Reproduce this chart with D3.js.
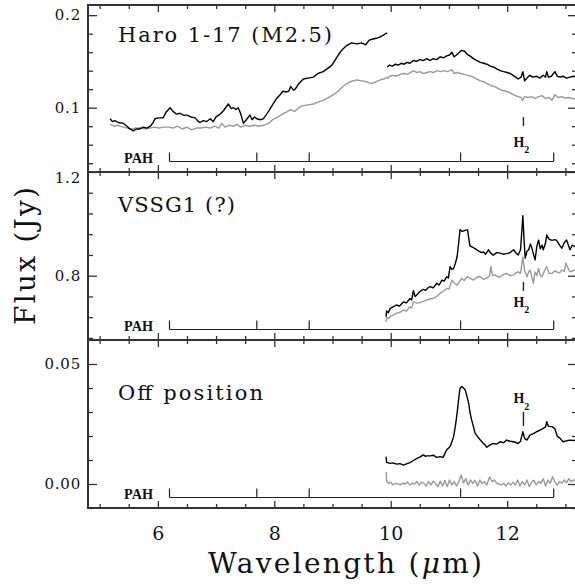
<!DOCTYPE html>
<html>
<head>
<meta charset="utf-8">
<script src="https://cdn.jsdelivr.net/npm/d3@7"></script>
<style>
body { margin: 0; background: #fff; }
svg { display: block; }
</style>
</head>
<body>
<div class="view"></div>
<script>
var width = 575;
var height = 585;

// ---- data (wavelength in micron, flux in Jy) ----
var panelNames = ["Haro 1-17 (M2.5)", "VSSG1 (?)", "Off position"];
var wavelengthTicks = [6, 8, 10, 12];
var fluxTicksHaro = [0.1, 0.2];
var fluxTicksVssg = [0.8, 1.2];
var fluxTicksOff = [0.00, 0.05];
var pahBands = [6.2, 7.7, 8.6, 11.2, 12.8];
var h2Line = 12.28;

var haroBlackShort = [[5.18,0.088],[5.22,0.085],[5.26,0.086],[5.32,0.084],[5.41,0.083],[5.47,0.080],[5.52,0.077],[5.58,0.075],[5.63,0.077],[5.69,0.077],[5.75,0.079],[5.81,0.078],[5.87,0.080],[5.92,0.084],[5.95,0.088],[6.01,0.089],[6.09,0.089],[6.14,0.095],[6.21,0.100],[6.26,0.096],[6.32,0.093],[6.38,0.094],[6.44,0.092],[6.50,0.092],[6.57,0.090],[6.64,0.089],[6.68,0.086],[6.72,0.084],[6.78,0.086],[6.84,0.085],[6.90,0.088],[6.95,0.085],[7.00,0.090],[7.07,0.093],[7.13,0.097],[7.21,0.104],[7.26,0.099],[7.30,0.100],[7.34,0.098],[7.38,0.100],[7.42,0.094],[7.47,0.083],[7.52,0.087],[7.58,0.092],[7.62,0.087],[7.66,0.090],[7.70,0.088],[7.76,0.087],[7.81,0.088],[7.87,0.093],[7.93,0.099],[7.98,0.104],[8.04,0.110],[8.10,0.114],[8.15,0.118],[8.20,0.117],[8.25,0.118],[8.28,0.123],[8.33,0.119],[8.36,0.120],[8.42,0.126],[8.50,0.131],[8.58,0.132],[8.67,0.133],[8.75,0.137],[8.84,0.139],[8.93,0.143],[8.99,0.146],[9.05,0.152],[9.11,0.158],[9.17,0.163],[9.24,0.167],[9.33,0.170],[9.42,0.169],[9.50,0.170],[9.57,0.168],[9.63,0.173],[9.68,0.174],[9.75,0.175],[9.80,0.176],[9.86,0.178],[9.94,0.181]];
var haroGrayShort = [[5.18,0.082],[5.25,0.080],[5.32,0.081],[5.40,0.079],[5.48,0.078],[5.55,0.077],[5.62,0.078],[5.70,0.078],[5.78,0.077],[5.86,0.078],[5.94,0.079],[6.02,0.078],[6.10,0.079],[6.18,0.079],[6.26,0.078],[6.34,0.080],[6.42,0.077],[6.50,0.079],[6.58,0.076],[6.66,0.078],[6.74,0.078],[6.82,0.079],[6.90,0.078],[6.98,0.080],[7.05,0.078],[7.10,0.083],[7.15,0.079],[7.22,0.081],[7.30,0.080],[7.36,0.082],[7.42,0.079],[7.50,0.081],[7.58,0.080],[7.66,0.081],[7.74,0.080],[7.82,0.081],[7.90,0.083],[7.97,0.087],[8.04,0.089],[8.14,0.093],[8.20,0.095],[8.28,0.098],[8.35,0.096],[8.42,0.100],[8.48,0.102],[8.58,0.103],[8.67,0.104],[8.75,0.106],[8.84,0.108],[8.93,0.111],[8.99,0.113],[9.08,0.117],[9.13,0.120],[9.22,0.125],[9.30,0.128],[9.42,0.130],[9.50,0.129],[9.59,0.128],[9.67,0.126],[9.74,0.128],[9.82,0.130],[9.88,0.131],[9.94,0.133]];
var haroBlackLong = [[9.94,0.144],[9.98,0.146],[10.03,0.145],[10.08,0.147],[10.13,0.146],[10.18,0.148],[10.23,0.147],[10.28,0.149],[10.33,0.148],[10.39,0.151],[10.44,0.150],[10.50,0.152],[10.56,0.151],[10.62,0.153],[10.67,0.151],[10.73,0.153],[10.79,0.152],[10.85,0.155],[10.91,0.154],[10.96,0.156],[11.01,0.157],[11.05,0.160],[11.09,0.155],[11.13,0.157],[11.18,0.160],[11.22,0.162],[11.27,0.161],[11.31,0.158],[11.36,0.156],[11.42,0.153],[11.48,0.151],[11.54,0.149],[11.60,0.148],[11.65,0.147],[11.71,0.145],[11.76,0.144],[11.82,0.142],[11.88,0.140],[11.94,0.139],[12.00,0.138],[12.05,0.137],[12.10,0.135],[12.15,0.133],[12.19,0.131],[12.24,0.133],[12.27,0.139],[12.30,0.129],[12.34,0.132],[12.39,0.135],[12.44,0.133],[12.51,0.134],[12.56,0.132],[12.62,0.135],[12.66,0.133],[12.68,0.139],[12.71,0.133],[12.76,0.134],[12.82,0.139],[12.86,0.134],[12.91,0.133],[12.96,0.134],[13.02,0.132],[13.08,0.133],[13.14,0.134],[13.19,0.133]];
var haroGrayLong = [[9.94,0.131],[9.98,0.134],[10.04,0.135],[10.10,0.134],[10.16,0.136],[10.22,0.137],[10.28,0.136],[10.34,0.138],[10.39,0.140],[10.45,0.138],[10.50,0.139],[10.56,0.137],[10.62,0.138],[10.68,0.139],[10.73,0.138],[10.80,0.140],[10.86,0.139],[10.91,0.140],[10.97,0.139],[11.02,0.140],[11.05,0.141],[11.09,0.137],[11.14,0.138],[11.20,0.137],[11.26,0.136],[11.32,0.135],[11.38,0.134],[11.42,0.133],[11.48,0.131],[11.54,0.129],[11.60,0.128],[11.66,0.126],[11.72,0.124],[11.78,0.123],[11.84,0.121],[11.90,0.119],[11.96,0.118],[12.02,0.117],[12.08,0.115],[12.14,0.113],[12.19,0.112],[12.24,0.111],[12.27,0.108],[12.30,0.112],[12.36,0.111],[12.42,0.112],[12.48,0.110],[12.54,0.112],[12.60,0.113],[12.66,0.110],[12.72,0.111],[12.77,0.108],[12.82,0.114],[12.88,0.111],[12.94,0.112],[13.00,0.110],[13.06,0.111],[13.12,0.110],[13.19,0.109]];

var vssgBlack = [[9.92,0.642],[9.93,0.664],[9.96,0.657],[9.99,0.674],[10.04,0.680],[10.10,0.687],[10.15,0.683],[10.22,0.699],[10.27,0.695],[10.33,0.712],[10.36,0.706],[10.39,0.742],[10.42,0.720],[10.45,0.726],[10.50,0.739],[10.56,0.747],[10.60,0.744],[10.65,0.755],[10.68,0.758],[10.73,0.753],[10.79,0.771],[10.83,0.764],[10.88,0.783],[10.92,0.779],[10.96,0.796],[10.99,0.791],[11.02,0.835],[11.05,0.824],[11.08,0.828],[11.11,0.847],[11.14,0.873],[11.17,0.932],[11.19,0.977],[11.23,0.971],[11.28,0.975],[11.32,0.977],[11.34,0.946],[11.36,0.915],[11.42,0.908],[11.48,0.900],[11.52,0.894],[11.56,0.889],[11.59,0.892],[11.63,0.883],[11.68,0.900],[11.71,0.889],[11.76,0.879],[11.82,0.889],[11.88,0.887],[11.93,0.883],[11.99,0.885],[12.05,0.889],[12.11,0.900],[12.15,0.888],[12.19,0.880],[12.23,0.900],[12.27,1.031],[12.29,0.941],[12.31,0.868],[12.34,0.894],[12.37,0.900],[12.40,0.922],[12.42,0.911],[12.45,0.885],[12.48,0.861],[12.51,0.913],[12.54,0.937],[12.57,0.904],[12.60,0.918],[12.62,0.900],[12.66,0.927],[12.68,0.957],[12.72,0.941],[12.77,0.936],[12.82,0.939],[12.85,0.936],[12.90,0.918],[12.94,0.906],[12.98,0.927],[13.02,0.938],[13.06,0.913],[13.08,0.900],[13.12,0.918],[13.17,0.912]];
var vssgGray = [[9.92,0.622],[9.93,0.640],[9.96,0.635],[9.99,0.642],[10.05,0.649],[10.10,0.655],[10.16,0.659],[10.22,0.667],[10.27,0.664],[10.33,0.680],[10.36,0.676],[10.39,0.699],[10.45,0.694],[10.50,0.696],[10.56,0.701],[10.62,0.706],[10.68,0.711],[10.73,0.712],[10.79,0.720],[10.85,0.732],[10.90,0.739],[10.96,0.751],[11.00,0.748],[11.05,0.783],[11.09,0.772],[11.14,0.764],[11.18,0.776],[11.22,0.790],[11.26,0.781],[11.31,0.796],[11.36,0.791],[11.42,0.783],[11.48,0.795],[11.54,0.796],[11.59,0.786],[11.65,0.790],[11.70,0.800],[11.72,0.835],[11.75,0.800],[11.79,0.803],[11.84,0.795],[11.88,0.796],[11.94,0.805],[11.99,0.809],[12.05,0.800],[12.11,0.803],[12.15,0.811],[12.19,0.815],[12.23,0.809],[12.27,0.872],[12.30,0.819],[12.34,0.796],[12.37,0.814],[12.39,0.822],[12.42,0.800],[12.45,0.771],[12.48,0.814],[12.51,0.800],[12.54,0.828],[12.57,0.800],[12.60,0.796],[12.64,0.819],[12.68,0.835],[12.72,0.809],[12.77,0.809],[12.82,0.819],[12.85,0.815],[12.90,0.811],[12.94,0.822],[12.98,0.817],[13.01,0.848],[13.05,0.828],[13.08,0.815],[13.13,0.819],[13.17,0.822]];

var offBlack = [[9.92,0.0114],[9.93,0.0090],[9.96,0.0088],[9.99,0.0086],[10.04,0.0088],[10.10,0.0083],[10.16,0.0085],[10.22,0.0079],[10.27,0.0084],[10.33,0.0089],[10.39,0.0098],[10.45,0.0107],[10.50,0.0112],[10.56,0.0121],[10.60,0.0115],[10.62,0.0117],[10.68,0.0117],[10.73,0.0120],[10.79,0.0111],[10.85,0.0114],[10.90,0.0111],[10.96,0.0142],[11.02,0.0156],[11.05,0.0175],[11.08,0.0197],[11.11,0.0240],[11.14,0.0294],[11.17,0.0360],[11.19,0.0398],[11.22,0.0406],[11.25,0.0400],[11.28,0.0392],[11.31,0.0365],[11.34,0.0336],[11.36,0.0300],[11.39,0.0267],[11.42,0.0240],[11.45,0.0211],[11.50,0.0195],[11.54,0.0183],[11.59,0.0170],[11.63,0.0160],[11.65,0.0153],[11.70,0.0162],[11.76,0.0169],[11.82,0.0166],[11.88,0.0176],[11.94,0.0172],[11.99,0.0183],[12.05,0.0178],[12.11,0.0176],[12.15,0.0173],[12.19,0.0169],[12.23,0.0178],[12.27,0.0218],[12.30,0.0190],[12.34,0.0183],[12.39,0.0204],[12.45,0.0210],[12.51,0.0218],[12.57,0.0225],[12.62,0.0232],[12.66,0.0238],[12.68,0.0260],[12.71,0.0240],[12.77,0.0239],[12.82,0.0230],[12.86,0.0200],[12.91,0.0190],[12.96,0.0176],[13.02,0.0180],[13.08,0.0183],[13.14,0.0181],[13.19,0.0183]];
var offGray = [[9.92,0.0051],[9.93,0.0010],[9.96,0.0003],[10.00,0.0008],[10.04,-0.0004],[10.08,0.0003],[10.12,0.0001],[10.16,-0.0004],[10.20,0.0003],[10.25,0.0000],[10.29,0.0008],[10.33,-0.0004],[10.37,0.0003],[10.41,0.0000],[10.45,0.0010],[10.49,-0.0005],[10.53,0.0008],[10.57,0.0002],[10.61,-0.0008],[10.65,0.0010],[10.69,-0.0004],[10.73,0.0012],[10.77,0.0002],[10.81,-0.0011],[10.85,0.0012],[10.89,-0.0008],[10.93,0.0015],[10.97,-0.0011],[11.01,0.0017],[11.05,-0.0004],[11.09,0.0010],[11.13,-0.0008],[11.17,0.0010],[11.21,0.0038],[11.25,0.0005],[11.29,0.0022],[11.33,-0.0004],[11.37,0.0017],[11.41,0.0003],[11.45,0.0015],[11.49,-0.0008],[11.53,0.0017],[11.57,0.0003],[11.61,0.0010],[11.65,-0.0004],[11.70,0.0030],[11.74,0.0010],[11.78,0.0017],[11.82,0.0003],[11.86,0.0000],[11.90,-0.0004],[11.94,0.0003],[11.98,-0.0008],[12.02,0.0005],[12.06,-0.0004],[12.10,0.0008],[12.14,-0.0004],[12.18,0.0017],[12.22,-0.0008],[12.26,0.0010],[12.30,-0.0004],[12.34,0.0017],[12.38,-0.0011],[12.42,0.0008],[12.46,0.0015],[12.50,-0.0004],[12.54,0.0010],[12.58,0.0003],[12.62,0.0022],[12.66,-0.0008],[12.70,0.0017],[12.74,0.0003],[12.78,0.0030],[12.82,0.0008],[12.86,-0.0004],[12.90,0.0010],[12.94,0.0003],[12.98,0.0017],[13.02,0.0005],[13.06,0.0022],[13.10,0.0010],[13.14,0.0017],[13.19,0.0008]];

// ---- layout ----
var left = 88, right = 577;
var serif = "'DejaVu Serif', 'Liberation Serif', serif";
var frameColor = "#333";
var grayLine = "#999";

var panels = [
    {name: panelNames[0], top: 5, bottom: 172, domain: [0.0305, 0.211], ticks: fluxTicksHaro, fmt: d3.format(".1f"), minor: 0.02,
     lines: [[haroGrayShort, grayLine], [haroGrayLong, grayLine], [haroBlackShort, "#000"], [haroBlackLong, "#000"]],
     labelY: 42, labelLen: 214, h2: {tick: [117, 126], text: 146.5}},
    {name: panelNames[1], top: 172, bottom: 340, domain: [0.552, 1.2], ticks: fluxTicksVssg, fmt: d3.format(".1f"), minor: 0.08,
     lines: [[vssgGray, grayLine], [vssgBlack, "#000"]],
     labelY: 211.5, labelLen: 117, h2: {tick: [282, 291], text: 306.5}},
    {name: panelNames[2], top: 340, bottom: 508, domain: [-0.01, 0.06], ticks: fluxTicksOff, fmt: d3.format(".2f"), minor: 0.01,
     lines: [[offGray, grayLine], [offBlack, "#000"]],
     labelY: 400, labelLen: 145, h2: {tick: [412, 426], text: 403}}
];

var svg = d3.select(".view")
    .append("svg")
    .attr("width", width)
    .attr("height", height)
    .style("font-family", serif);

var x = d3.scaleLinear()
    .domain([4.8, 13.2])
    .range([left, right]);

var xMinor = d3.range(5, 13.01, 0.5).filter(function (d) { return d % 2 !== 0; });

panels.forEach(function (p, i) {

    var y = d3.scaleLinear()
        .domain(p.domain)
        .range([p.bottom, p.top]);

    var yMinor = d3.range(Math.ceil(p.domain[0] / p.minor) * p.minor, p.domain[1], p.minor)
        .filter(function (v) {
            return p.ticks.every(function (t) { return Math.abs(t - v) > 1e-6; });
        });

    var g = svg.append("g").attr("class", "panel");

    g.append("clipPath")
        .attr("id", "clip" + i)
        .append("rect")
        .attr("x", left)
        .attr("y", p.top)
        .attr("width", right - left)
        .attr("height", p.bottom - p.top);

    // spectra
    var line = d3.line()
        .x(function (d) { return x(d[0]); })
        .y(function (d) { return y(d[1]); });

    g.append("g")
        .attr("clip-path", "url(#clip" + i + ")")
        .selectAll("path")
        .data(p.lines)
        .enter().append("path")
        .attr("fill", "none")
        .attr("stroke", function (d) { return d[1]; })
        .attr("stroke-width", 1.4)
        .attr("stroke-linejoin", "round")
        .attr("d", function (d) { return line(d[0]); });

    // axes, ticks pointing inward
    function tidy(sel) {
        sel.select(".domain").remove();
        sel.selectAll("line").attr("stroke", frameColor).attr("stroke-width", 1.3);
    }

    g.append("g")
        .attr("transform", "translate(" + left + ",0)")
        .call(d3.axisLeft(y).tickValues(p.ticks).tickFormat(p.fmt).tickSize(-9).tickPadding(7))
        .call(tidy)
        .selectAll("text")
        .attr("font-family", serif)
        .attr("font-size", 15)
        .attr("letter-spacing", 0.8)
        .attr("fill", "#111")
        .attr("y", function (d) { return y(d) - 6 < p.top ? p.top + 6 - y(d) : 0; });

    g.append("g")
        .attr("transform", "translate(" + left + ",0)")
        .call(d3.axisLeft(y).tickValues(yMinor).tickFormat("").tickSize(-5))
        .call(tidy);

    g.append("g")
        .attr("transform", "translate(" + right + ",0)")
        .call(d3.axisRight(y).tickValues(p.ticks).tickFormat("").tickSize(-9))
        .call(tidy);

    g.append("g")
        .attr("transform", "translate(" + right + ",0)")
        .call(d3.axisRight(y).tickValues(yMinor).tickFormat("").tickSize(-5))
        .call(tidy);

    g.append("g")
        .attr("transform", "translate(0," + p.top + ")")
        .call(d3.axisTop(x).tickValues(wavelengthTicks).tickFormat("").tickSize(-7))
        .call(tidy);

    g.append("g")
        .attr("transform", "translate(0," + p.top + ")")
        .call(d3.axisTop(x).tickValues(xMinor).tickFormat("").tickSize(-4))
        .call(tidy);

    var bottomAxis = g.append("g")
        .attr("transform", "translate(0," + p.bottom + ")")
        .call(d3.axisBottom(x).tickValues(wavelengthTicks)
            .tickFormat(i === panels.length - 1 ? d3.format("d") : "")
            .tickSize(-7).tickPadding(19))
        .call(tidy);

    bottomAxis.selectAll("text")
        .attr("font-family", serif)
        .attr("font-size", 19)
        .attr("fill", "#111");

    g.append("g")
        .attr("transform", "translate(0," + p.bottom + ")")
        .call(d3.axisBottom(x).tickValues(xMinor).tickFormat("").tickSize(-4))
        .call(tidy);

    // frame
    g.append("rect")
        .attr("x", left)
        .attr("y", p.top)
        .attr("width", right - left)
        .attr("height", p.bottom - p.top)
        .attr("fill", "none")
        .attr("stroke", frameColor)
        .attr("stroke-width", 2);

    // object name
    g.append("text")
        .attr("x", 118)
        .attr("y", p.labelY)
        .attr("font-size", 21)
        .attr("textLength", p.labelLen)
        .attr("lengthAdjust", "spacing")
        .attr("fill", "#111")
        .text(p.name);

    // PAH band markers
    var pahY = p.bottom - 10.5;
    g.append("line")
        .attr("x1", x(pahBands[0]))
        .attr("x2", x(pahBands[pahBands.length - 1]))
        .attr("y1", pahY)
        .attr("y2", pahY)
        .attr("stroke", "#222")
        .attr("stroke-width", 1.2);

    g.selectAll(".pah-tick")
        .data(pahBands)
        .enter().append("line")
        .attr("class", "pah-tick")
        .attr("x1", function (d) { return x(d); })
        .attr("x2", function (d) { return x(d); })
        .attr("y1", pahY)
        .attr("y2", pahY - 9)
        .attr("stroke", "#222")
        .attr("stroke-width", 1.2);

    g.append("text")
        .attr("x", 124)
        .attr("y", pahY + 1)
        .attr("font-family", "'Liberation Serif', serif")
        .attr("font-weight", "bold")
        .attr("font-size", 15)
        .attr("textLength", 29)
        .attr("lengthAdjust", "spacingAndGlyphs")
        .attr("fill", "#111")
        .text("PAH");

    // H2 line marker
    g.append("line")
        .attr("x1", x(h2Line))
        .attr("x2", x(h2Line))
        .attr("y1", p.h2.tick[0])
        .attr("y2", p.h2.tick[1])
        .attr("stroke", "#222")
        .attr("stroke-width", 1.4);

    var h2 = g.append("text")
        .attr("x", x(h2Line) - 10)
        .attr("y", p.h2.text)
        .attr("font-family", "'Liberation Serif', serif")
        .attr("font-weight", "bold")
        .attr("font-size", 14)
        .attr("fill", "#111");
    h2.append("tspan").text("H");
    h2.append("tspan").attr("dy", 6.5).attr("font-size", 10).text("2");
});

// axis titles
svg.append("text")
    .attr("transform", "translate(35,256) rotate(-90)")
    .attr("text-anchor", "middle")
    .attr("font-size", 28)
    .attr("textLength", 138)
    .attr("lengthAdjust", "spacing")
    .attr("fill", "#111")
    .text("Flux (Jy)");

var xTitle = svg.append("text")
    .attr("x", 345)
    .attr("y", 573)
    .attr("text-anchor", "middle")
    .attr("font-size", 28)
    .attr("textLength", 274)
    .attr("lengthAdjust", "spacing")
    .attr("fill", "#111");
xTitle.append("tspan").text("Wavelength (");
xTitle.append("tspan").attr("font-style", "italic").text("μ");
xTitle.append("tspan").text("m)");
</script>
</body>
</html>
